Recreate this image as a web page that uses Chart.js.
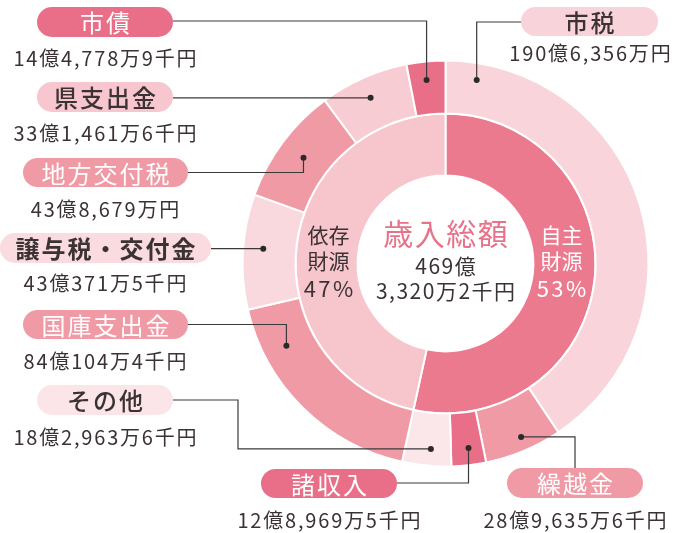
<!DOCTYPE html>
<html lang="ja">
<head>
<meta charset="utf-8">
<script src="https://cdn.jsdelivr.net/npm/chart.js@4"></script>
<style>
  html, body { margin: 0; padding: 0; background: #fff; }
  canvas { display: block; }
</style>
</head>
<body>
<canvas id="revenueChart" width="673" height="533"></canvas>
<script>
// 歳入内訳（単位：億円）
const categories = ['市税', '繰越金', '諸収入', 'その他', '国庫支出金', '譲与税・交付金', '地方交付税', '県支出金', '市債'];
const amounts = [190.6356, 28.963556, 12.896895, 18.296336, 84.010444, 43.037115, 43.8679, 33.146116, 14.477789];
const amountLabels = ['190億6,356万円', '28億9,635万6千円', '12億8,969万5千円', '18億2,963万6千円', '84億104万4千円', '43億371万5千円', '43億8,679万円', '33億1,461万6千円', '14億4,778万9千円'];
const sourceGroups = ['自主財源', '依存財源'];
const sourceAmounts = [250.792467, 218.539364];
const sourcePercents = ['53%', '47%'];
const totalLabel = ['469億', '3,320万2千円'];

const DARK = '#e96f88', MID = '#f09aa6', PALE = '#f8ccd3', PALER = '#fad9de', PALEST = '#fbe6e9';
const outerColors = ['#f9d5db', MID, DARK, PALEST, MID, PALER, MID, PALE, DARK];
const innerColors = ['#ec7a8f', '#f7c5cc'];
const TEXT = '#3b3234';

// 吹き出し（ラベル枠）の配置
const callouts = [
  { box: [521, 658, 7, 36], fill: '#f9d3da', ink: TEXT, vy: 53, vx: 590, route: 'hv', side: 'left', ly: 22, frac: 0.066, rf: 0.68 },
  { box: [507, 643, 468, 498], fill: MID, ink: '#fff', vy: 520, vx: 575, route: 'vh', lx: 575, frac: 0.46, rf: 0.74 },
  { box: [261, 397, 469, 498], fill: DARK, ink: '#fff', vy: 520, vx: 329, route: 'hv', side: 'right', ly: 483, frac: 0.45, rf: 0.68 },
  { box: [37, 173, 385, 415], fill: '#fbe5e9', ink: TEXT, vy: 437, vx: 105, route: 'hvh', side: 'right', ly: 400, ex: 238, frac: 0.44, rf: 0.68 },
  { box: [23, 188, 310, 339], fill: MID, ink: '#fff', vy: 361, vx: 105, route: 'hv', side: 'right', ly: 324.5, frac: 0.78, rf: 0.55 },
  { box: [0, 211, 233, 263], fill: '#fadbe0', ink: TEXT, vy: 283, vx: 105, route: 'h', side: 'right', frac: 0.54, rf: 0.62, bold: true },
  { box: [23, 188, 158, 187], fill: MID, ink: '#fff', vy: 209, vx: 105, route: 'hv', side: 'right', ly: 172.5, frac: 0.5, rf: 0.51 },
  { box: [37, 173, 82, 112], fill: '#f7c6ce', ink: TEXT, vy: 133, vx: 105, route: 'h', side: 'right', frac: 0.48, rf: 0.6 },
  { box: [37, 173, 7, 37], fill: DARK, ink: '#fff', vy: 58, vx: 105, route: 'hv', side: 'right', ly: 21, frac: 0.47, rf: 0.65 }
];

const FONT = '"Noto Sans CJK JP", "Noto Sans", sans-serif';

function drawText(ctx, str, x, y, size, color, ls, weight) {
  ctx.font = (weight || 'normal') + ' ' + size + 'px ' + FONT;
  ctx.letterSpacing = (ls || 0) + 'px';
  ctx.fillStyle = color;
  ctx.textAlign = 'center';
  ctx.textBaseline = 'middle';
  ctx.fillText(str, x + (ls || 0) / 2, y);
}

function pill(ctx, x1, x2, y1, y2, fill) {
  const r = (y2 - y1) / 2;
  ctx.beginPath();
  ctx.moveTo(x1 + r, y1);
  ctx.lineTo(x2 - r, y1);
  ctx.arc(x2 - r, y1 + r, r, -Math.PI / 2, Math.PI / 2);
  ctx.lineTo(x1 + r, y2);
  ctx.arc(x1 + r, y1 + r, r, Math.PI / 2, Math.PI * 1.5);
  ctx.closePath();
  ctx.fillStyle = fill;
  ctx.fill();
}

const calloutPlugin = {
  id: 'callouts',
  afterDraw(chart) {
    const ctx = chart.ctx;
    const meta = chart.getDatasetMeta(0);
    ctx.save();
    callouts.forEach((c, i) => {
      const arc = meta.data[i];
      const p = arc.getProps(['x', 'y', 'startAngle', 'endAngle', 'innerRadius', 'outerRadius'], true);
      const a = p.startAngle + (p.endAngle - p.startAngle) * c.frac;
      const r = p.innerRadius + (p.outerRadius - p.innerRadius) * c.rf;
      const dx = p.x + r * Math.cos(a), dy = p.y + r * Math.sin(a);
      const [x1, x2, y1, y2] = c.box;
      const edge = c.side === 'left' ? x1 : x2;

      // leader line
      ctx.beginPath();
      ctx.strokeStyle = '#3a3a3a';
      ctx.lineWidth = 1.2;
      if (c.route === 'h') {
        ctx.moveTo(edge, dy); ctx.lineTo(dx, dy);
      } else if (c.route === 'hv') {
        ctx.moveTo(edge, c.ly); ctx.lineTo(dx, c.ly); ctx.lineTo(dx, dy);
      } else if (c.route === 'hvh') {
        ctx.moveTo(edge, c.ly); ctx.lineTo(c.ex, c.ly); ctx.lineTo(c.ex, dy); ctx.lineTo(dx, dy);
      } else if (c.route === 'vh') {
        ctx.moveTo(c.lx, y1); ctx.lineTo(c.lx, dy); ctx.lineTo(dx, dy);
      }
      ctx.stroke();
      ctx.beginPath();
      ctx.arc(dx, dy, 3, 0, Math.PI * 2);
      ctx.fillStyle = '#2a2a2a';
      ctx.fill();

      pill(ctx, x1, x2, y1, y2, c.fill);
      drawText(ctx, categories[i], (x1 + x2) / 2, (y1 + y2) / 2 + 1, 24, c.ink, 2, c.bold ? 'bold' : (c.ink === '#fff' ? 'normal' : '500'));
      drawText(ctx, amountLabels[i], c.vx, c.vy, 20, TEXT, 1.8);
    });

    // 中央・内側リングの文字
    const cx = meta.data[0].x, cy = meta.data[0].y;
    drawText(ctx, '歳入総額', cx, cy - 30, 30, '#e8728a', 1.5);
    drawText(ctx, totalLabel[0], cx, cy + 3, 21, TEXT, 1.5);
    drawText(ctx, totalLabel[1], cx, cy + 28, 21, TEXT, 1.5);

    const lx = cx - 117, rx = cx + 116;
    drawText(ctx, sourceGroups[1].slice(0, 2), lx, cy - 28, 21, TEXT, 0);
    drawText(ctx, sourceGroups[1].slice(2), lx, cy - 2, 21, TEXT, 0);
    drawText(ctx, sourcePercents[1], lx, cy + 25, 22, TEXT, 2.5);
    drawText(ctx, sourceGroups[0].slice(0, 2), rx, cy - 28, 21, '#fff', 0);
    drawText(ctx, sourceGroups[0].slice(2), rx, cy - 2, 21, '#fff', 0);
    drawText(ctx, sourcePercents[0], rx, cy + 25, 22, '#fff', 2.5);
    ctx.restore();
  }
};

new Chart(document.getElementById('revenueChart'), {
  type: 'doughnut',
  data: {
    labels: categories,
    datasets: [
      {
        label: '歳入内訳',
        data: amounts,
        backgroundColor: outerColors,
        borderColor: '#fff',
        borderWidth: 2,
        weight: 53
      },
      {
        label: '財源区分',
        data: sourceAmounts,
        backgroundColor: innerColors,
        borderColor: '#fff',
        borderWidth: 2,
        weight: 62
      }
    ]
  },
  options: {
    responsive: false,
    animation: false,
    cutout: '43.3%',
    layout: { padding: { left: 241.5, top: 59.5, right: 23.5, bottom: 65.5 } },
    plugins: {
      legend: { display: false },
      tooltip: { enabled: false }
    }
  },
  plugins: [calloutPlugin]
});
</script>
</body>
</html>
